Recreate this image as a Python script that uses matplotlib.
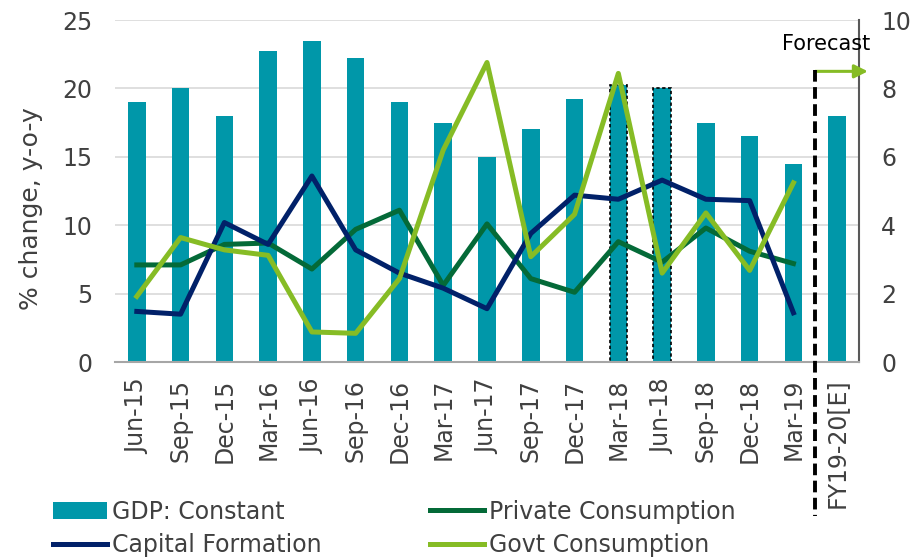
import matplotlib.pyplot as plt
import numpy as np

quarters = ["Jun-15", "Sep-15", "Dec-15", "Mar-16", "Jun-16", "Sep-16", "Dec-16", "Mar-17",
            "Jun-17", "Sep-17", "Dec-17", "Mar-18", "Jun-18", "Sep-18", "Dec-18", "Mar-19",
            "FY19-20[E]"]
# GDP growth, right axis
gdp_constant = [7.6, 8.0, 7.2, 9.1, 9.4, 8.9, 7.6, 7.0, 6.0, 6.8, 7.7, 8.1, 8.0, 7.0, 6.6, 5.8, 7.2]
# components, left axis (no value for the forecast year)
capital_formation = [3.7, 3.5, 10.2, 8.6, 13.6, 8.2, 6.5, 5.4, 3.9, 9.4, 12.2, 11.9, 13.3, 11.9, 11.8, 3.6]
private_consumption = [7.1, 7.1, 8.6, 8.7, 6.8, 9.7, 11.1, 5.6, 10.1, 6.1, 5.1, 8.8, 7.3, 9.8, 8.1, 7.2]
govt_consumption = [4.8, 9.1, 8.2, 7.8, 2.2, 2.1, 6.1, 15.5, 21.9, 7.7, 10.8, 21.1, 6.5, 10.9, 6.7, 13.1]
highlighted = ["Mar-18", "Jun-18"]

c_teal = "#0097A9"
c_navy = "#012169"
c_dkgreen = "#046A38"
c_lime = "#86BC25"
c_text = "#404040"
fs = 17

plt.rcParams['font.family'] = ['DejaVu Sans']

fig = plt.figure(figsize=(9.12, 5.57), dpi=100)
ax = fig.add_axes([0.126, 0.350, 0.816, 0.614])

x = np.arange(len(quarters))
bars = ax.bar(x, gdp_constant, width=0.4, color=c_teal, zorder=2, label="GDP: Constant")
for i, q in enumerate(quarters):
    if q in highlighted:
        bars[i].set_edgecolor("black")
        bars[i].set_linestyle((0, (2, 1.5)))
        bars[i].set_linewidth(1.2)

ax2 = ax.twinx()

ax.set_ylim(0, 10)
ax.set_xlim(-0.5, len(quarters) - 0.5)
ax.set_yticks(np.arange(0, 11, 2))
ax.yaxis.tick_right()
ax.grid(axis='y', color="#d9d9d9", linewidth=1.2, zorder=0)
ax.set_axisbelow(True)
ax.set_xticks(x)
ax.set_xticklabels(quarters, rotation=90, fontsize=fs, color=c_text)
ax.tick_params(axis='x', length=0, pad=12)
ax.tick_params(axis='y', length=0, pad=16, labelsize=fs, labelcolor=c_text)
for s in ["top", "left"]:
    ax.spines[s].set_visible(False)
ax.spines["bottom"].set_color("#a6a6a6")
ax.spines["bottom"].set_linewidth(1.5)
ax.spines["right"].set_color("#595959")
ax.spines["right"].set_linewidth(1.5)

n = len(capital_formation)
ax2.plot(x[:n], private_consumption, color=c_dkgreen, lw=3.6, label="Private Consumption")
ax2.plot(x[:n], capital_formation, color=c_navy, lw=3.6, label="Capital Formation")
ax2.plot(x[:n], govt_consumption, color=c_lime, lw=3.6, label="Govt Consumption")
ax2.set_ylim(0, 25)
ax2.set_yticks(np.arange(0, 26, 5))
ax2.yaxis.tick_left()
ax2.yaxis.set_label_position('left')
ax2.tick_params(axis='y', length=0, pad=16, labelsize=fs, labelcolor=c_text)
ax2.set_ylabel("% change, y-o-y", fontsize=18, color=c_text, labelpad=14, y=0.45)
for s in ax2.spines.values():
    s.set_visible(False)

# forecast marker
xf = len(quarters) - 1.5
ax.plot([xf, xf], [8.55, -4.5], color="black", lw=2.8, linestyle=(0, (3, 1.4)),
        clip_on=False, zorder=5)
ax.annotate("", xy=(xf + 1.2, 8.5), xytext=(xf, 8.5), annotation_clip=False,
            arrowprops=dict(arrowstyle="-|>,head_length=0.8,head_width=0.4",
                            color=c_lime, lw=2.2, shrinkA=0, shrinkB=0))
ax.text(xf + 0.25, 9.3, "Forecast", fontsize=15, color="black", ha="center", va="center")

h1, l1 = ax.get_legend_handles_labels()
h2, l2 = ax2.get_legend_handles_labels()
handles = [h1[0], h2[1], h2[0], h2[2]]
labels = [l1[0], l2[1], l2[0], l2[2]]
fig.legend(handles, labels, ncol=2, loc="lower left", bbox_to_anchor=(0.045, -0.022),
           frameon=False, fontsize=fs, handlelength=2.3, handletextpad=0.2,
           columnspacing=4.6, labelspacing=0.42, borderpad=0.0, labelcolor=c_text)

plt.savefig("out.png", dpi=100)
